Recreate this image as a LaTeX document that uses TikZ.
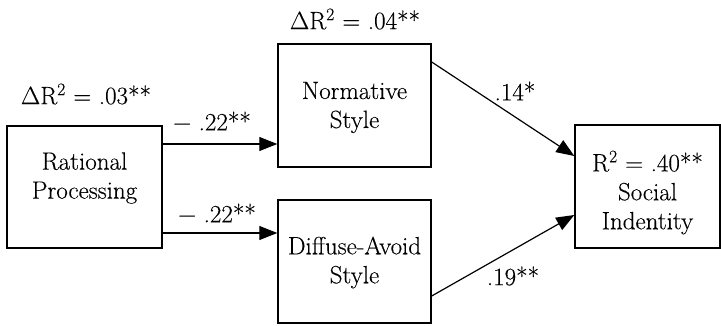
\documentclass[tikz,border=0pt]{standalone}
\usepackage{fontspec}
\setmainfont{Latin Modern Roman}[FakeBold=0.22]
\usetikzlibrary{arrows.meta}
\begin{document}
\begin{tikzpicture}[x=1pt,y=-1pt,
  box/.style={draw,line width=1.4pt,minimum width=#1,inner sep=0pt},
  txt/.style={font=\fontsize{25}{29}\selectfont,align=center,inner sep=0pt},
  arr/.style={line width=1.2pt,-{Triangle[length=18pt,width=14pt]}}]
\useasboundingbox (0,0) rectangle (721,326);
\node[box=155pt,minimum height=122pt,label={[txt,yshift=9pt,name=rtx]center:Rational\\Processing}] (r) at (84.5,187) {};
\node[box=153pt,minimum height=123pt,label={[txt,yshift=-2pt,name=ntx]center:Normative\\Style}] (n) at (354.5,105.5) {};
\node[box=153pt,minimum height=123pt,label={[txt,yshift=-1pt,name=dtx]center:Diffuse-Avoid\\Style}] (d) at (354.5,261.5) {};
\node[box=145pt,minimum height=123pt,label={[txt,yshift=-6pt,name=stx]center:R\textsuperscript{2} = .40**\\Social\\Indentity}] (s) at (647.5,186.5) {};
\node[txt] (l1) at (86,94) {ΔR\textsuperscript{2} = .03**};
\node[txt] (l2) at (355,19) {ΔR\textsuperscript{2} = .04**};
\node[txt] (l3) at (212,121) {− .22**};
\node[txt] (l4) at (217,213) {− .22**};
\node[txt] (l5) at (515,91) {.14*};
\node[txt] (l6) at (513,276) {.19**};
\draw[arr] (r.east |- 0,144) -- (n.west |- 0,144);
\draw[arr] (r.east |- 0,233) -- (d.west |- 0,233);
\draw[arr] (n.east |- 0,62) -- (s.west |- 0,156);
\draw[arr] (d.east |- 0,296) -- (s.west |- 0,215);
\end{tikzpicture}
\end{document}
